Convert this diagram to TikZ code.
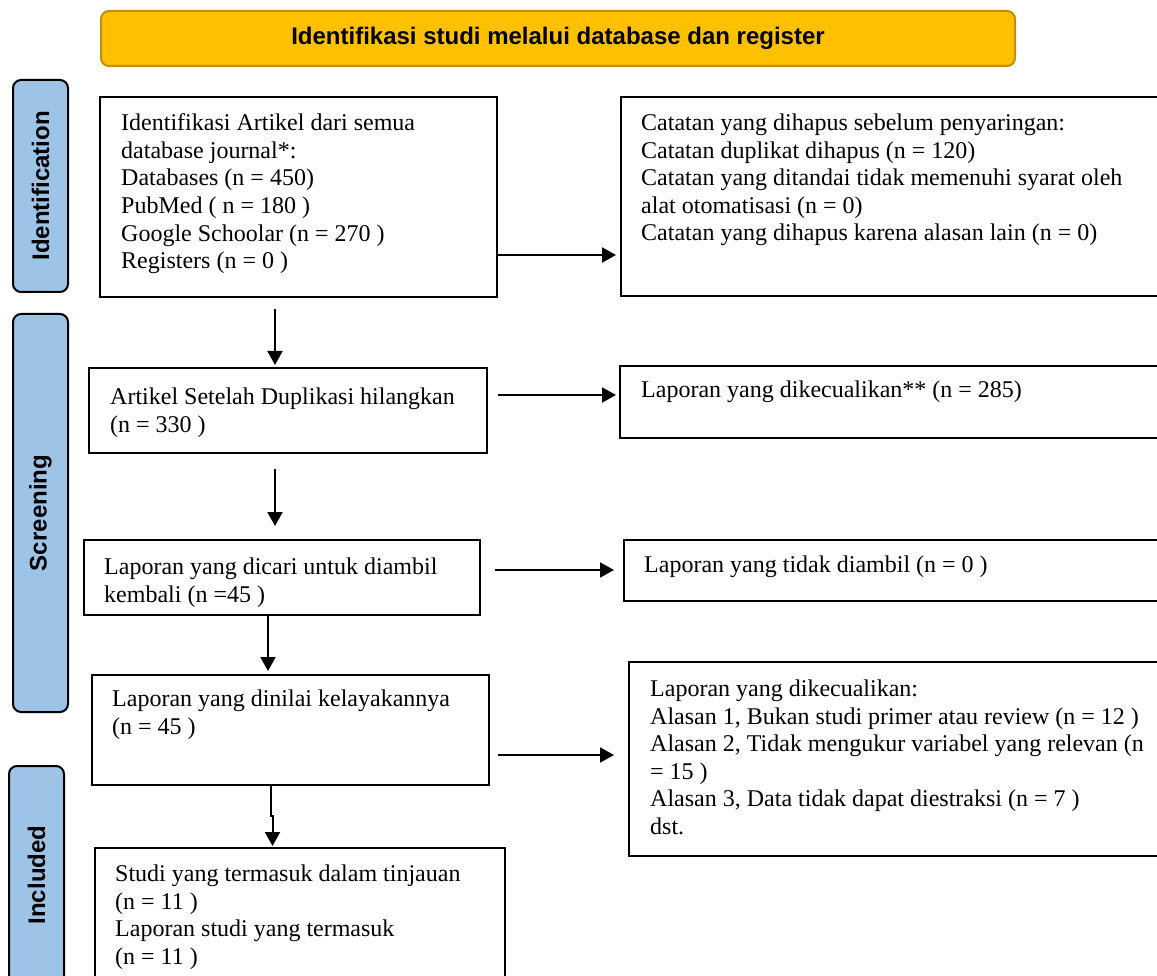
\documentclass[tikz,border=0pt]{standalone}
\usepackage{fontspec}
\setmainfont{Liberation Serif}
\newfontfamily\arialfont{Liberation Sans}
\usetikzlibrary{arrows.meta}
\definecolor{bannerfill}{HTML}{FFC000}
\definecolor{bannerdraw}{HTML}{BF9000}
\definecolor{sidefill}{HTML}{9DC3E6}
\begin{document}
\begin{tikzpicture}[x=1pt,y=-1pt,
  boxst/.style={draw, line width=2pt, rectangle, inner sep=0pt},
  txt/.style={anchor=north west, align=left, inner sep=0pt, font=\fontsize{24}{27.6}\selectfont},
  sidest/.style={draw, line width=2pt, fill=sidefill, rounded corners=8pt, inner sep=0pt, minimum width=55pt},
  sidelbl/.style={rotate=90, inner sep=0pt, font=\arialfont\bfseries\fontsize{24}{28}\selectfont},
  bannerst/.style={draw=bannerdraw, line width=2pt, fill=bannerfill, rounded corners=8pt, inner sep=0pt, minimum width=914pt, minimum height=55pt, font=\arialfont\bfseries\fontsize{24}{28}\selectfont},
  arr/.style={line width=2pt, -{Triangle[length=14pt,width=15pt]}}
]
\useasboundingbox (0,0) rectangle (1157,976);
\clip (0,0) rectangle (1157,976);

% banner
\node[bannerst] (banner) at (558,38.5) {Identifikasi studi melalui database dan register};

% side bars
\node[sidest, minimum height=212pt] (sid) at (40.5,186) {};
\node[sidelbl] (sidl) at (sid.center) {Identification};
\node[sidest, minimum height=398pt] (sscr) at (40.5,513) {};
\node[sidelbl] (sscrl) at (sscr.center) {Screening};
\node[sidest, minimum height=224pt] (sinc) at (36.5,878) {};
\node[sidelbl] (sincl) at (36.5,875) {Included};

% boxes
\node[boxst, minimum width=397pt, minimum height=200pt] (b1) at (298.5,197) {};
\node[txt] (t1) at ([xshift=22pt,yshift=-17.7pt]b1.north west) {Identifikasi Artikel dari semua\\database journal*:\\Databases (n = 450)\\PubMed ( n = 180 )\\Google Schoolar (n = 270 )\\Registers (n = 0 )};

\node[boxst, minimum width=549pt, minimum height=199pt] (r1) at (895.5,196.5) {};
\node[txt] (tr1) at ([xshift=21pt,yshift=-17.7pt]r1.north west) {Catatan yang dihapus sebelum penyaringan:\\Catatan duplikat dihapus (n = 120)\\Catatan yang ditandai tidak memenuhi syarat oleh\\alat otomatisasi (n = 0)\\Catatan yang dihapus karena alasan lain (n = 0)};

\node[boxst, minimum width=398pt, minimum height=85pt] (b2) at (288,410.5) {};
\node[txt] (t2) at ([xshift=22pt,yshift=-20.7pt]b2.north west) {Artikel Setelah Duplikasi hilangkan\\(n = 330 )};

\node[boxst, minimum width=550pt, minimum height=72pt] (r2) at (895,402) {};
\node[txt] (tr2) at ([xshift=22pt,yshift=-15.7pt]r2.north west) {Laporan yang dikecualikan** (n = 285)};

\node[boxst, minimum width=396pt, minimum height=75pt] (b3) at (282,577.5) {};
\node[txt] (t3) at ([xshift=21pt,yshift=-18.7pt]b3.north west) {Laporan yang dicari untuk diambil\\kembali (n =45 )};

\node[boxst, minimum width=546pt, minimum height=61pt] (r3) at (897,570.5) {};
\node[txt] (tr3) at ([xshift=21pt,yshift=-16.7pt]r3.north west) {Laporan yang tidak diambil (n = 0 )};

\node[boxst, minimum width=397pt, minimum height=110pt] (b4) at (290.5,730) {};
\node[txt] (t4) at ([xshift=21pt,yshift=-15.7pt]b4.north west) {Laporan yang dinilai kelayakannya\\(n = 45 )};

\node[boxst, minimum width=541pt, minimum height=194pt] (r4) at (899.5,759) {};
\node[txt] (tr4) at ([xshift=22pt,yshift=-18.7pt]r4.north west) {Laporan yang dikecualikan:\\Alasan 1, Bukan studi primer atau review (n = 12 )\\Alasan 2, Tidak mengukur variabel yang relevan (n\\= 15 )\\Alasan 3, Data tidak dapat diestraksi (n = 7 )\\dst.};

\node[boxst, minimum width=410pt, minimum height=152pt] (b5) at (300,924) {};
\node[txt] (t5) at ([xshift=21pt,yshift=-17.7pt]b5.north west) {Studi yang termasuk dalam tinjauan\\(n = 11 )\\Laporan studi yang termasuk\\(n = 11 )};

% horizontal arrows
\coordinate (a1s) at ([yshift=-58pt]b1.east);
\draw[arr, shorten >=4pt] (a1s) -- (a1s -| r1.west);
\coordinate (a2s) at ([xshift=10pt,yshift=15.5pt]b2.east);
\draw[arr, shorten >=3pt] (a2s) -- (a2s -| r2.west);
\coordinate (a3s) at ([xshift=14pt,yshift=7.5pt]b3.east);
\draw[arr, shorten >=9pt] (a3s) -- (a3s -| r3.west);
\coordinate (a4s) at ([xshift=8pt,yshift=-25pt]b4.east);
\draw[arr, shorten >=14pt] (a4s) -- (a4s -| r4.west);

% vertical arrows
\coordinate (d1s) at ([xshift=-23.5pt,yshift=-11pt]b1.south);
\draw[arr, shorten >=2pt] (d1s) -- (d1s |- b2.north);
\coordinate (d2s) at ([xshift=-13pt,yshift=-15pt]b2.south);
\draw[arr, shorten >=13pt] (d2s) -- (d2s |- b3.north);
\coordinate (d3s) at ([xshift=-14pt]b3.south);
\draw[arr, shorten >=3pt] (d3s) -- (d3s |- b4.north);
\coordinate (d4s) at ([xshift=-20pt]b4.south);
\coordinate (d4m) at ([xshift=-18pt,yshift=-30pt]b4.south);
\draw[arr, shorten >=1pt] (d4s) -- ++(0,30) -- (d4m) -- (d4m |- b5.north);
\end{tikzpicture}
\end{document}
